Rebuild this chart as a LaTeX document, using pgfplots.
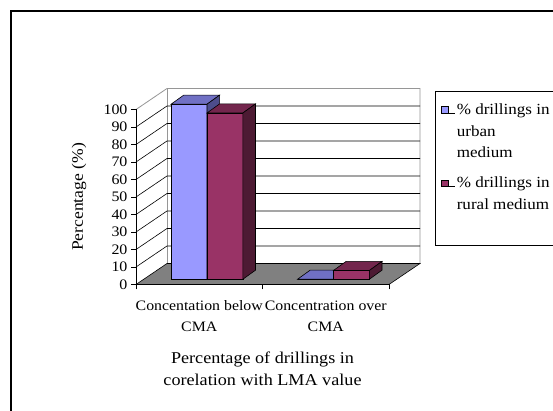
\documentclass[border=0pt]{standalone}
\usepackage{fontspec}
\setmainfont{Liberation Serif}[FakeStretch=1.1]
\usepackage{pgfplots}
\pgfplotsset{compat=1.18}
\definecolor{blueF}{RGB}{153,153,255}
\definecolor{blueT}{RGB}{112,112,196}
\definecolor{blueS}{RGB}{77,77,140}
\definecolor{redF}{RGB}{153,51,102}
\definecolor{redT}{RGB}{115,38,77}
\definecolor{redS}{RGB}{77,26,51}
\definecolor{floorG}{RGB}{128,128,128}
\definecolor{wallG}{RGB}{150,150,150}
\begin{document}
\begin{tikzpicture}
\useasboundingbox (0,0) rectangle (553pt,411pt);
\clip (0,0) rectangle (553pt,411pt);
\fill[white] (0,0) rectangle (553pt,411pt);
\draw[line width=1.3pt] (11pt,-10pt) -- (11pt,400pt) -- (600pt,400pt);
% ---------- axis 1: walls, floor, ticks, labels ----------
\begin{axis}[
  at={(136pt,126.5pt)}, anchor=south west,
  x=126.5pt, y=1.75pt,
  xmin=0, xmax=2.3, ymin=0, ymax=115,
  clip=false,
  axis line style={draw=none},
  tick align=outside, tick pos=left,
  major tick length=5pt,
  tick style={black, line width=0.6pt},
  /pgf/number format/assume math mode=true,
  ytick={0,10,...,100},
  yticklabel style={font=\fontsize{14.5}{17}\selectfont},
  xtick={0,1,2}, xticklabels={},
  extra x ticks={0.5,1.5},
  extra x tick labels={{Concentation below\\CMA},{Concentration over\\CMA}},
  extra x tick style={major tick length=0pt},
  xticklabel style={font=\fontsize{14.4}{21}\selectfont, align=center, yshift=-12.5pt},
  ylabel={Percentage (\%)},
  ylabel style={at={(axis description cs:-0.1822,0.4348)}, anchor=base, font=\fontsize{16}{19}\selectfont},
  xlabel={Percentage of drillings in\\corelation with LMA value},
  xlabel style={at={(axis description cs:0.4348,-0.3185)}, anchor=north, align=center, font=\fontsize{16.5}{21.7}\selectfont},
]
% floor
\fill[floorG] (axis cs:0,0) -- (axis cs:2,0) -- (axis cs:2.245,12) -- (axis cs:0.245,12) -- cycle;
% wall borders
\draw[wallG, line width=0.8pt] (axis cs:0,100) -- (axis cs:0.245,112) -- (axis cs:2.245,112) -- (axis cs:2.245,12);
\draw[wallG, line width=0.8pt] (axis cs:0.245,12) -- (axis cs:0.245,112);
% gridlines on side and back walls
\draw[black, line width=0.6pt] (axis cs:0,10) -- (axis cs:0.245,22) -- (axis cs:2.245,22);
\draw[black, line width=0.6pt] (axis cs:0,20) -- (axis cs:0.245,32) -- (axis cs:2.245,32);
\draw[black, line width=0.6pt] (axis cs:0,30) -- (axis cs:0.245,42) -- (axis cs:2.245,42);
\draw[black, line width=0.6pt] (axis cs:0,40) -- (axis cs:0.245,52) -- (axis cs:2.245,52);
\draw[black, line width=0.6pt] (axis cs:0,50) -- (axis cs:0.245,62) -- (axis cs:2.245,62);
\draw[black, line width=0.6pt] (axis cs:0,60) -- (axis cs:0.245,72) -- (axis cs:2.245,72);
\draw[black, line width=0.6pt] (axis cs:0,70) -- (axis cs:0.245,82) -- (axis cs:2.245,82);
\draw[black, line width=0.6pt] (axis cs:0,80) -- (axis cs:0.245,92) -- (axis cs:2.245,92);
\draw[black, line width=0.6pt] (axis cs:0,90) -- (axis cs:0.245,102) -- (axis cs:2.245,102);
% floor outline
\draw[black, line width=0.6pt] (axis cs:0.245,12) -- (axis cs:0,0) -- (axis cs:2,0) -- (axis cs:2.245,12) -- (axis cs:0.245,12);
% front value axis
\draw[black, line width=0.6pt] (axis cs:0,0) -- (axis cs:0,100);
\end{axis}
% ---------- axis 2: the bars, set back a little into the depth ----------
\begin{axis}[
  at={(143.7pt,131.75pt)}, anchor=south west,
  x=126.5pt, y=1.75pt,
  xmin=0, xmax=2.3, ymin=0, ymax=115,
  clip=false, hide axis,
  legend cell align=left,
  legend style={at={(1.0218,0.882)}, anchor=north west, draw=none, fill=none,
    inner sep=0pt, row sep=57pt, column sep=0pt,
    cells={anchor=base west, inner sep=0pt}},
]
% urban medium: front faces
\addplot[ybar, bar width=0.284, bar shift=-0.142, fill=blueF, draw=black, line width=0.6pt,
  legend image code/.code={\path (0pt,1.5pt) -- (13pt,1.5pt);
    \draw[fill=blueF, draw=black, line width=0.5pt] (0pt,1.5pt) rectangle (6.5pt,8pt);}]
  coordinates {(0.5,100) (1.5,0)};
\addlegendentry{\parbox[t]{150pt}{\fontsize{15.5}{21.5}\selectfont\raggedright\% drillings in\\urban\\medium}}
% urban medium: top and side faces
\addplot[fill=blueT, draw=black, line width=0.6pt, forget plot] coordinates {(0.216,100) (0.5,100) (0.6,105.2) (0.316,105.2)} -- cycle;
\addplot[fill=blueS, draw=black, line width=0.6pt, forget plot] coordinates {(0.5,0) (0.6,5.2) (0.6,105.2) (0.5,100)} -- cycle;
\addplot[fill=blueT, draw=black, line width=0.6pt, forget plot] coordinates {(1.216,0) (1.5,0) (1.6,5.2) (1.316,5.2)} -- cycle;
% rural medium: front faces
\addplot[ybar, bar width=0.284, bar shift=0.142, fill=redF, draw=black, line width=0.6pt,
  legend image code/.code={\path (0pt,1.5pt) -- (13pt,1.5pt);
    \draw[fill=redF, draw=black, line width=0.5pt] (0pt,1.5pt) rectangle (6.5pt,8pt);}]
  coordinates {(0.5,95) (1.5,5)};
\addlegendentry{\parbox[t]{150pt}{\fontsize{15.5}{21.5}\selectfont\raggedright\% drillings in\\rural medium}}
% rural medium: top and side faces
\addplot[fill=redT, draw=black, line width=0.6pt, forget plot] coordinates {(0.5,95) (0.784,95) (0.884,100.2) (0.6,100.2)} -- cycle;
\addplot[fill=redS, draw=black, line width=0.6pt, forget plot] coordinates {(0.784,0) (0.884,5.2) (0.884,100.2) (0.784,95)} -- cycle;
\addplot[fill=redT, draw=black, line width=0.6pt, forget plot] coordinates {(1.5,5) (1.784,5) (1.884,10.2) (1.6,10.2)} -- cycle;
\addplot[fill=redS, draw=black, line width=0.6pt, forget plot] coordinates {(1.784,0) (1.884,5.2) (1.884,10.2) (1.784,5)} -- cycle;
\end{axis}
% legend frame
\draw[black, line width=1pt] (435pt,165pt) -- (435pt,319pt) -- (600pt,319pt);
\draw[black, line width=1pt] (435pt,165pt) -- (600pt,165pt);
\end{tikzpicture}
\end{document}
